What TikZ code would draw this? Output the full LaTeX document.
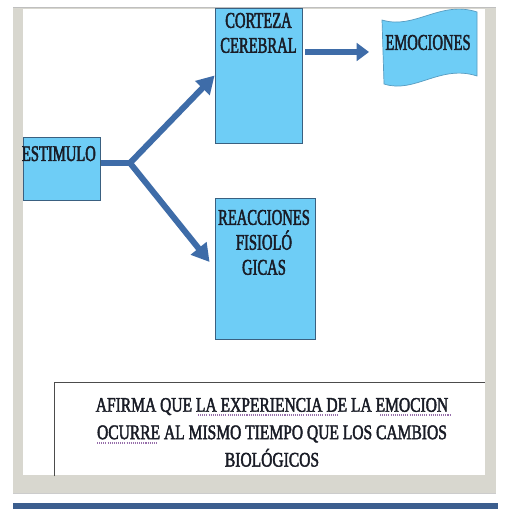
\documentclass[tikz,border=0pt]{standalone}
\usepackage{fontspec}
\usepackage{tikz}
\usetikzlibrary{arrows.meta}
\newfontfamily\slimserif[FakeStretch=0.65, FakeBold=2]{Liberation Serif}
\newfontfamily\noteserif[FakeStretch=0.75, FakeBold=2]{Liberation Serif}
\definecolor{boxfill}{RGB}{110,205,246}
\definecolor{boxline}{RGB}{58,96,128}
\definecolor{flowblue}{RGB}{62,108,168}
\definecolor{framegrey}{RGB}{216,215,207}
\definecolor{barblue}{RGB}{60,94,142}
\definecolor{inkdark}{RGB}{25,28,38}
\definecolor{spellmark}{RGB}{150,110,170}
\pgfdeclarelayer{bg}
\pgfsetlayers{bg,main}
\tikzset{
  box/.style={draw=boxline, fill=boxfill, line width=0.5pt, inner sep=0pt},
  lbl/.style={inner sep=0pt, text=inkdark, align=center, font=\slimserif\fontsize{12.8}{14.2}\selectfont},
  note/.style={lbl, font=\noteserif\fontsize{11.8}{15.6}\selectfont},
  flow/.style={draw=flowblue, line width=3.4pt, line join=round},
  flowtip/.style={flow, -{Triangle[length=10pt,width=11pt]}},
  squiggle/.style={draw=spellmark, line width=0.6pt, dash pattern=on 0.6pt off 0.6pt},
}

\begin{document}
\begin{tikzpicture}[x=0.02cm, y=-0.02cm]
        \useasboundingbox (0,0) rectangle (504,509);
        \node (estimulo) [box, minimum width=1.54cm, minimum height=1.26cm] at (61.5,168.5) {};
        \node (corteza) [box, minimum width=1.74cm, minimum height=2.7cm] at (258.5,75.5) {};
        \node (reacciones) [box, minimum width=2cm, minimum height=2.82cm] at (265,268.5) {};
        \node (afirma) [inner sep=0pt, minimum width=8.6cm, minimum height=1.86cm] at (270,429.5) {};
        \node (estimulotxt) [lbl, anchor=base west] at ([shift={(-1,-7.5)}]estimulo.west) {ESTIMULO};
        \node (cortezatxt) [lbl, anchor=north] at ([shift={(0,5)}]corteza.north) {CORTEZA\\CEREBRAL};
        \node (reaccionestxt) [lbl, anchor=north] at ([shift={(-1,12)}]reacciones.north) {REACCIONES\\FISIOLÓ\\GICAS};
        \node (emociones) [lbl] at (428,42.5) {EMOCIONES};
        \node (afirmatxt) [note, anchor=north] at ([shift={(2,15)}]afirma.north) {AFIRMA QUE LA EXPERIENCIA DE LA EMOCION\\OCURRE AL MISMO TIEMPO QUE LOS CAMBIOS\\BIOLÓGICOS};
        \coordinate (fork) at (130,163);
        \coordinate (emoport) at (369,52);
        \begin{pgfonlayer}{bg}
                % frame of the slide
                \fill[framegrey] (13,7) rectangle (496,493);
                \fill[white] (23,9) rectangle (485,475);
                \draw[black!25, line width=0.4pt] (13,7) -- (496,7);
                \draw[black!20, line width=0.4pt] (13,493) -- (496,493);
                \fill[barblue] (13,503) rectangle (498,509);
                % wave shape
                \filldraw[fill=boxfill, draw=boxline!45!boxfill, line width=0.4pt]
                        (382,20) .. controls (415,30) and (440,0) .. (477,12)
                        -- (477,76) .. controls (440,64) and (415,94) .. (384,84) -- cycle;
                \draw[flow] ([shift={(-3,-5.5)}]estimulo.east) -- (fork);
                \draw[flowtip] (fork) -- (corteza.west);
                \draw[flowtip] (fork) -- ([shift={(-5,-6.5)}]reacciones.west);
                \draw[flow, -{Triangle[length=7pt,width=10pt]}] ([shift={(3,0)}]corteza.east |- emoport) -- (emoport);
                % spelling marks
                \draw[squiggle] (198,415) -- (338,415);
                \draw[squiggle] (380,415) -- (450,415);
                \draw[squiggle] (97,443) -- (157,443);
        \end{pgfonlayer}
        \draw[black!70, line width=0.5pt] (afirma.south west) |- (afirma.north east);
\end{tikzpicture}
\end{document}
